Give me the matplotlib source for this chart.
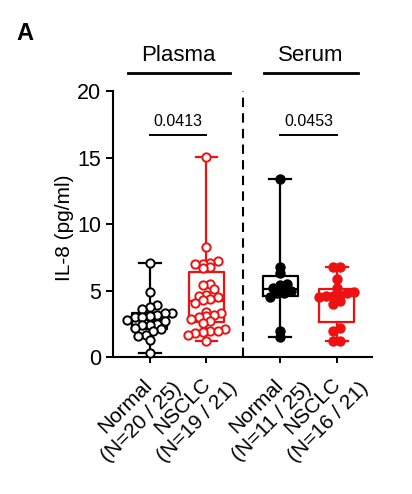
import numpy as np
import matplotlib.pyplot as plt
import matplotlib.transforms as mtransforms

plt.rcParams['font.family'] = ['Liberation Sans', 'DejaVu Sans']

# data (IL-8, pg/ml)
group_labels = ['Normal\n(N=20 / 25)', 'NSCLC\n(N=19 / 21)',
                'Normal\n(N=11 / 25)', 'NSCLC\n(N=16 / 21)']
normal_plasma = [7.1, 4.9, 3.9, 3.8, 3.6, 3.3, 3.3, 3.2, 3.1, 3.0, 3.0, 2.8,
                 2.7, 2.5, 2.4, 2.4, 2.2, 2.1, 2.0, 1.7, 1.6, 1.3, 0.3]
nsclc_plasma = [15.1, 8.3, 7.2, 7.1, 7.0, 7.0, 6.8, 6.7, 5.5, 5.4, 5.1, 4.7,
                4.6, 4.5, 4.4, 4.3, 4.1, 3.4, 3.3, 3.2, 3.1, 3.0, 2.9, 2.7,
                2.6, 2.1, 2.0, 2.0, 1.9, 1.8, 1.7, 1.2]
normal_serum = [13.4, 6.8, 6.3, 5.5, 5.4, 5.2, 5.0, 4.8, 4.8, 4.5, 2.0, 1.5]
nsclc_serum = [6.8, 6.8, 5.9, 5.2, 4.9, 4.8, 4.7, 4.6, 4.6, 4.5, 4.2, 4.0,
               2.2, 2.0, 1.2, 1.2]
p_values = ['0.0413', '0.0453']
sample_types = ['Plasma', 'Serum']

all_data = [normal_plasma, nsclc_plasma, normal_serum, nsclc_serum]
positions = [1, 2, 3.3, 4.3]
colors = ['black', '#ee1111', 'black', '#ee1111']
filled = [False, False, True, True]

fig = plt.figure(figsize=(4.12, 4.94), dpi=100)
ax = fig.add_axes([0.274, 0.277, 0.629, 0.538])
ax.set_xlim(0.35, 4.92)
ax.set_ylim(0, 20)

# pixel scales, used to lay out the scatter
px_x = 0.629 * 412 / (4.92 - 0.35)
px_y = 0.538 * 494 / 20.0


def row_offsets(vals, row_h, step):
    # GraphPad-like scatter: points falling in the same row are spread sideways
    vals = np.asarray(vals)
    rows = np.round(vals * px_y / row_h).astype(int)
    offs = np.zeros(len(vals))
    for r in np.unique(rows):
        idx = np.where(rows == r)[0]
        idx = idx[np.argsort(vals[idx])]
        n = len(idx)
        offs[idx] = (np.arange(n) - (n - 1) / 2) * step / px_x
    return offs


for vals, pos, c, fill in zip(all_data, positions, colors, filled):
    vals = np.array(vals)
    q1, med, q3 = np.percentile(vals, [25, 50, 75], method='weibull')
    st = [dict(med=med, q1=q1, q3=q3, whislo=vals.min(), whishi=vals.max(), fliers=[])]
    lp = dict(color=c, lw=1.6)
    ax.bxp(st, positions=[pos], widths=0.62, capwidths=0.38, showfliers=False,
           boxprops=lp, whiskerprops=lp, capprops=lp, medianprops=lp,
           manage_ticks=False)
    if fill:
        xs = pos + row_offsets(vals, 9, 7)
        ax.plot(xs, vals, 'o', color=c, ms=7.5, mew=0, clip_on=False, zorder=3)
    else:
        xs = pos + row_offsets(vals, 8, 7.5)
        ax.plot(xs, vals, 'o', mfc='white', mec=c, ms=6, mew=1.4,
                clip_on=False, zorder=3)

# dashed divider between plasma and serum
ax.plot([2.65, 2.65], [0, 20], color='black', lw=1.5, dashes=(4.5, 3))

# significance bars
for (a, b), p in zip([(0, 1), (2, 3)], p_values):
    ax.plot([positions[a], positions[b]], [16.7, 16.7], color='black', lw=1.4,
            clip_on=False)
    ax.text((positions[a] + positions[b]) / 2, 17.2, p, ha='center',
            va='bottom', fontsize=11.5)

# group headers
for (x0, x1), name in zip([(0.61, 2.41), (3.01, 4.67)], sample_types):
    ax.plot([x0, x1], [21.4, 21.4], color='black', lw=2, clip_on=False)
    ax.text((x0 + x1) / 2, 21.9, name, ha='center', va='bottom', fontsize=16)

ax.spines['top'].set_visible(False)
ax.spines['right'].set_visible(False)
ax.spines['left'].set_linewidth(1.5)
ax.spines['bottom'].set_linewidth(1.5)
ax.set_yticks([0, 5, 10, 15, 20])
ax.tick_params(axis='y', labelsize=15.5, length=5, width=1.4)
ax.tick_params(axis='x', labelsize=15, length=4, width=1.4)
ax.set_xticks(positions)
ax.set_xticklabels(group_labels, rotation=45, ha='right',
                   rotation_mode='anchor', multialignment='center')
shift = mtransforms.ScaledTranslation(0.06, 0.05, fig.dpi_scale_trans)
for lab in ax.get_xticklabels():
    lab.set_transform(lab.get_transform() + shift)
ax.set_ylabel('IL-8 (pg/ml)', fontsize=15)
ax.yaxis.set_label_coords(-0.15, 0.487)

fig.text(0.041, 0.919, 'A', fontsize=17, fontweight='bold')

fig.savefig('out.png', dpi=100)
